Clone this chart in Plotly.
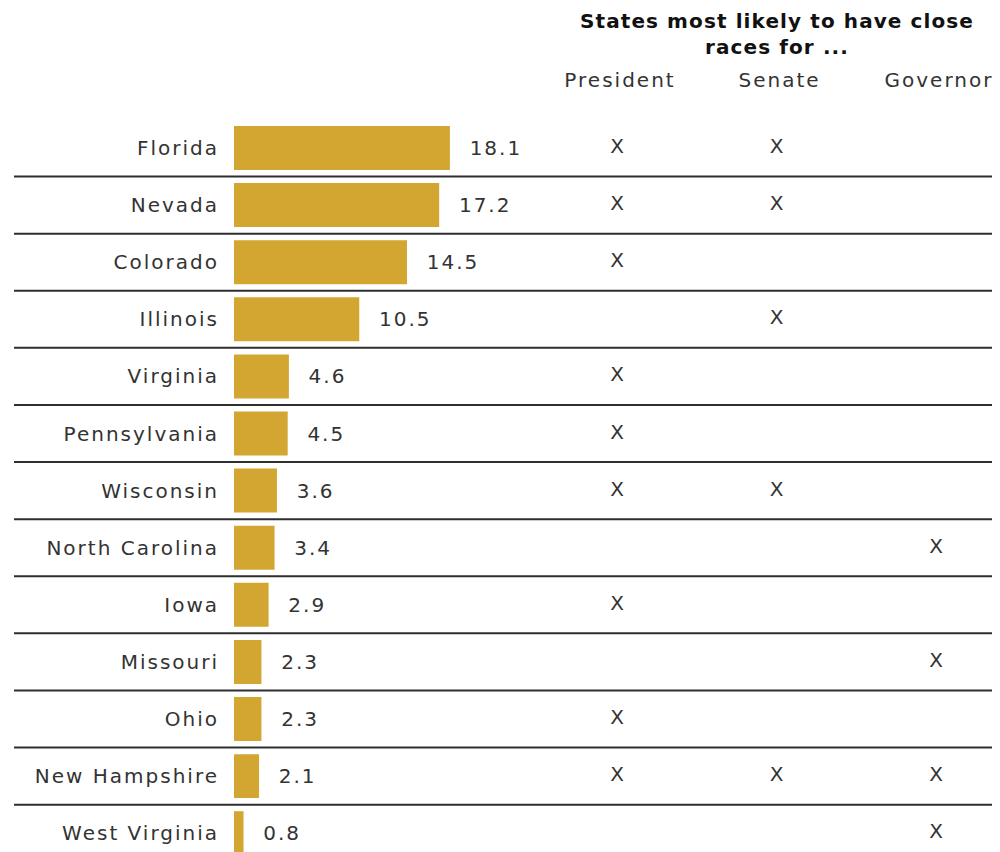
import plotly.graph_objects as go

# data
states = ["Florida", "Nevada", "Colorado", "Illinois", "Virginia", "Pennsylvania",
          "Wisconsin", "North Carolina", "Iowa", "Missouri", "Ohio",
          "New Hampshire", "West Virginia"]
shares = [18.1, 17.2, 14.5, 10.5, 4.6, 4.5, 3.6, 3.4, 2.9, 2.3, 2.3, 2.1, 0.8]
race_cols = ["President", "Senate", "Governor"]
president = [1, 1, 1, 0, 1, 1, 1, 0, 1, 0, 1, 1, 0]
senate = [1, 1, 0, 1, 0, 0, 1, 0, 0, 0, 0, 1, 0]
governor = [0, 0, 0, 0, 0, 0, 0, 1, 0, 1, 0, 1, 1]

BAR = "#D3A631"
TXT = "#333333"
FONT = "DejaVu Sans"

# page body has an 8px margin, so the figure is 8px smaller than the window
W, H = 992, 844


def spaced(s, px=2.0):
    # wide letter spacing like the original typeface
    return f'<span style="letter-spacing:{px}px">{s}</span>'


rows = [-i for i in range(len(states))]

fig = go.Figure()

fig.add_trace(go.Bar(
    x=shares, y=rows, orientation="h",
    marker=dict(color=BAR, line=dict(width=0)),
    width=0.77,
    text=[spaced("\u00a0\u00a0" + f"{v:.1f}") for v in shares],
    textposition="outside", cliponaxis=False, constraintext="none",
    textfont=dict(family=FONT, size=20, color=TXT),
    hoverinfo="skip",
))

# X marks for each race column
xs, ys = [], []
for col, flags in enumerate([president, senate, governor]):
    for i, f in enumerate(flags):
        if f:
            xs.append(col)
            ys.append(-i)
fig.add_trace(go.Scatter(
    x=xs, y=ys, xaxis="x2", yaxis="y", mode="text", text=["X"] * len(xs),
    textfont=dict(family=FONT, size=20, color=TXT), hoverinfo="skip",
))

shapes = [dict(type="line", xref="paper", x0=6 / W, x1=1.0, yref="y",
               y0=-i - 0.5, y1=-i - 0.5, line=dict(color="#2e2e2e", width=2))
          for i in range(len(states) - 1)]

fig.update_layout(
    width=W, height=H,
    margin=dict(l=0, r=0, t=92, b=0),
    paper_bgcolor="white", plot_bgcolor="white",
    showlegend=False,
    font=dict(family=FONT, color=TXT),
    title=dict(
        text="<b>" + spaced("States most likely to have close<br>races for ...", 1.1) + "</b>",
        x=769 / W, xanchor="center", xref="paper",
        y=1 - 20 / H, yanchor="top", yref="container",
        font=dict(family=FONT, size=20, color="#111111"),
    ),
    xaxis=dict(domain=[226 / W, 532 / W], range=[0, 25.65], visible=False),
    xaxis2=dict(domain=[532 / W, 1.0], range=[-0.4828, 2.4013], anchor="y",
                side="top", tickvals=[0, 1, 2],
                ticktext=[spaced(c) for c in race_cols],
                tickfont=dict(family=FONT, size=20, color=TXT),
                showgrid=False, zeroline=False, showline=False, ticks="",
                ticklabelshift=3, ticklabelstandoff=8),
    yaxis=dict(range=[-12.329, 0.8406], tickvals=rows,
               ticktext=[spaced(s) for s in states],
               tickfont=dict(family=FONT, size=20, color=TXT),
               showgrid=False, zeroline=False, showline=False, ticks="",
               ticklabelstandoff=14),
    shapes=shapes,
)

fig.write_html("out.html")
